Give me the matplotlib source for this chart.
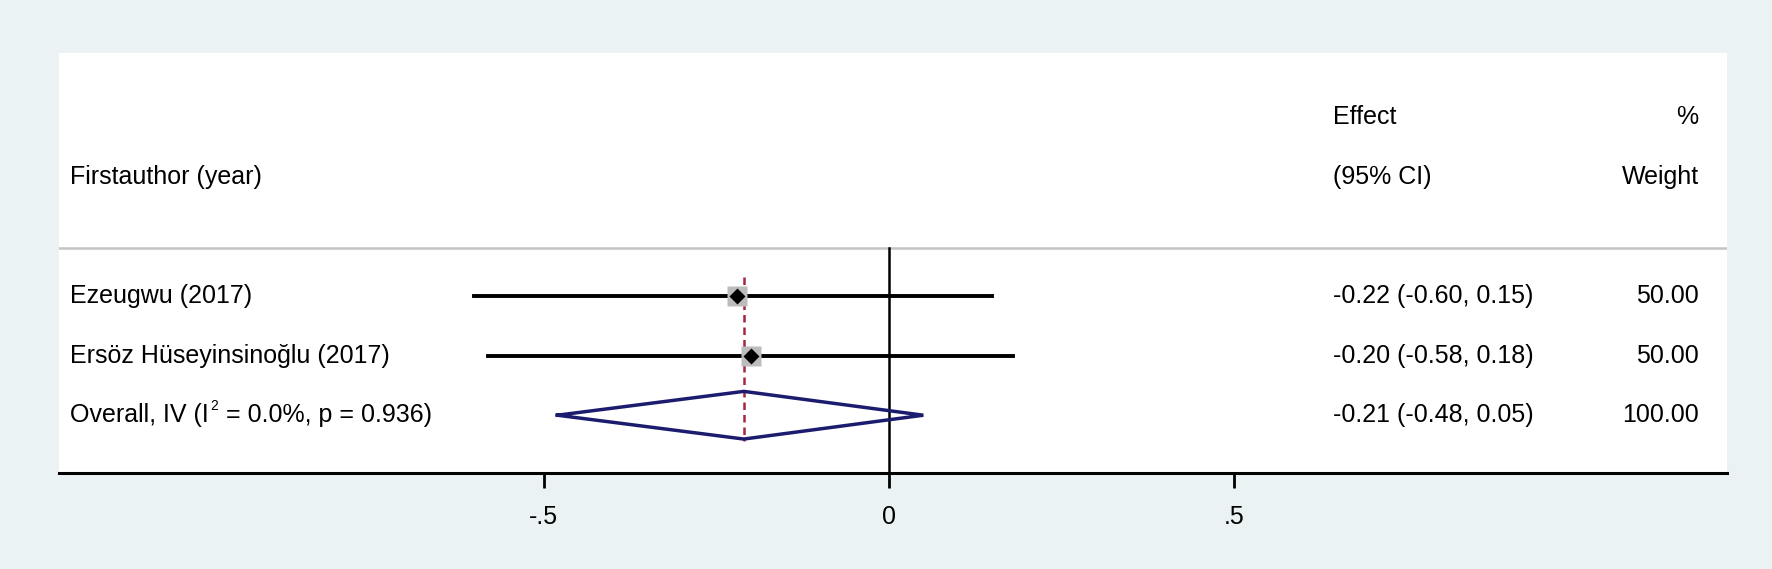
import matplotlib
matplotlib.use("Agg")
import matplotlib.pyplot as plt
from matplotlib.transforms import blended_transform_factory, offset_copy

plt.rcParams['font.family'] = ['Liberation Sans', 'DejaVu Sans']

# ---- data ----
studies = ["Ezeugwu (2017)", "Ersöz Hüseyinsinoğlu (2017)"]
effects = [-0.22, -0.20]
lower = [-0.60, -0.58]
upper = [0.15, 0.18]
weights = [50.00, 50.00]
overall_parts = ["Overall, IV (I", "2", "= 0.0%, p = 0.936)"]
overall_effect = -0.21
overall_lower = -0.48
overall_upper = 0.05
overall_weight = 100.00
xticks = [-0.5, 0, 0.5]
xticklabels = ["-.5", "0", ".5"]

bg = '#eaf2f3'
fs = 18

fig = plt.figure(figsize=(17.72, 5.69), dpi=100, facecolor=bg)
ax = fig.add_axes([59/1772, (569-473)/569, (1727-59)/1772, (473-53)/569])
ax.set_facecolor('white')

x_left = (59 - 888.8) / 690.5
x_right = (1727 - 888.8) / 690.5
ax.set_xlim(x_left, x_right)
ax.set_ylim(3.97, -3.08)

for s in ['top', 'left', 'right']:
    ax.spines[s].set_visible(False)
ax.spines['bottom'].set_linewidth(2.2)
ax.set_yticks([])
ax.set_xticks(xticks)
ax.set_xticklabels(xticklabels, fontsize=fs)
ax.tick_params(axis='x', length=11, width=2.0, pad=12, direction='out')

# separator line
ax.axhline(0.19, color='#c4c4c4', lw=1.8)

# zero line
ax.plot([0, 0], [0.19, 3.97], color='black', lw=1.8, zorder=2)

# overall dashed line
ax.plot([overall_effect, overall_effect], [0.68, 3.44], color='#a3283f',
        lw=1.8, ls=(0, (3.0, 2.0)), zorder=3)

rows = [1, 2]
for i, y in enumerate(rows):
    ax.plot([lower[i], upper[i]], [y, y], color='black', lw=2.8, zorder=4)
    ax.plot(effects[i], y, marker='s', ms=14, color='#bcbcbc', mec='none', zorder=5)
    ax.plot(effects[i], y, marker='D', ms=8, color='black', mec='none', zorder=6)

# overall diamond
h = 0.4
ax.plot([overall_lower, overall_effect, overall_upper, overall_effect, overall_lower],
        [3, 3 - h, 3, 3 + h, 3], color='#1c1c6e', lw=2.5, zorder=6,
        solid_joinstyle='miter')

# text columns
tr = blended_transform_factory(ax.transAxes, ax.transData)
xl = 0.0066
xe = 0.764
xw = 0.983
ax.text(xe, -2, "Effect", transform=tr, fontsize=fs, va='center', ha='left')
ax.text(xw, -2, "%", transform=tr, fontsize=fs, va='center', ha='right')
ax.text(xl, -1, "Firstauthor (year)", transform=tr, fontsize=fs, va='center', ha='left')
ax.text(xe, -1, "(95% CI)", transform=tr, fontsize=fs, va='center', ha='left')
ax.text(xw, -1, "Weight", transform=tr, fontsize=fs, va='center', ha='right')

for i, y in enumerate(rows):
    ax.text(xl, y, studies[i], transform=tr, fontsize=fs, va='center', ha='left')
    ax.text(xe, y, f"{effects[i]:.2f} ({lower[i]:.2f}, {upper[i]:.2f})",
            transform=tr, fontsize=fs, va='center', ha='left')
    ax.text(xw, y, f"{weights[i]:.2f}", transform=tr, fontsize=fs, va='center', ha='right')

# overall label with small raised superscript
renderer = fig.canvas.get_renderer()
t1 = ax.text(xl, 3, overall_parts[0], transform=tr, fontsize=fs, va='center', ha='left')
w1 = t1.get_window_extent(renderer).width
tsup = ax.text(xl, 3, overall_parts[1],
               transform=offset_copy(tr, fig=fig, x=w1 + 1.0, y=9, units='dots'),
               fontsize=fs * 0.55, va='center', ha='left')
w2 = tsup.get_window_extent(renderer).width
ax.text(xl, 3, overall_parts[2],
        transform=offset_copy(tr, fig=fig, x=w1 + w2 + 9, y=0, units='dots'),
        fontsize=fs, va='center', ha='left')

ax.text(xe, 3, f"{overall_effect:.2f} ({overall_lower:.2f}, {overall_upper:.2f})",
        transform=tr, fontsize=fs, va='center', ha='left')
ax.text(xw, 3, f"{overall_weight:.2f}", transform=tr, fontsize=fs, va='center', ha='right')

fig.savefig("out.png", dpi=100, facecolor=bg)
